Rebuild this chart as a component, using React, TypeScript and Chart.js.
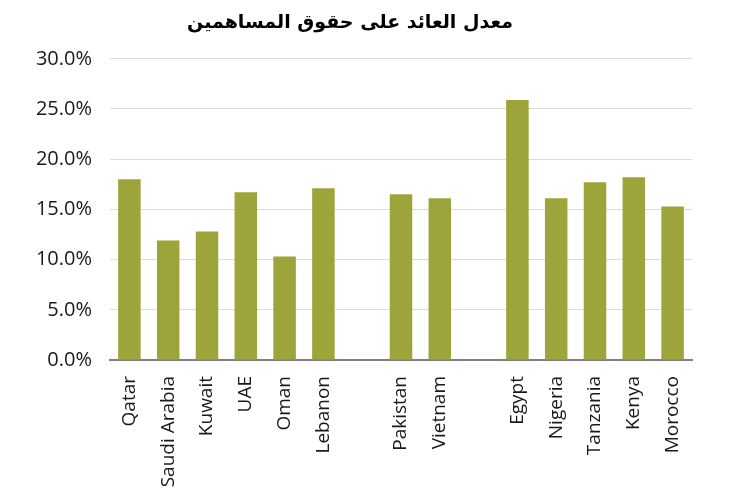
import React, { useEffect, useRef } from "react";
import { Chart, registerables } from "chart.js";

Chart.register(...registerables);

const titleText = "معدل العائد على حقوق المساهمين";
const categories = [
  "Qatar", "Saudi Arabia", "Kuwait", "UAE", "Oman", "Lebanon", "",
  "Pakistan", "Vietnam", "",
  "Egypt", "Nigeria", "Tanzania", "Kenya", "Morocco",
];
const roeValues: (number | null)[] = [
  18.0, 11.9, 12.8, 16.7, 10.3, 17.1, null,
  16.5, 16.1, null,
  25.9, 16.1, 17.7, 18.2, 15.3,
];
const yTicks = [0, 5, 10, 15, 20, 25, 30];

export default function App() {
  const ref = useRef<HTMLCanvasElement>(null);
  useEffect(() => {
    if (!ref.current) return;
    const chart = new Chart(ref.current, {
      type: "bar",
      data: {
        labels: categories,
        datasets: [
          {
            data: roeValues,
            backgroundColor: "#9da43a",
            borderWidth: 0,
            categoryPercentage: 1,
            barPercentage: 0.58,
          },
        ],
      },
      options: {
        responsive: false,
        animation: false,
        layout: { padding: { left: 0, right: 32, top: 0, bottom: 0 } },
        plugins: {
          legend: { display: false },
          tooltip: { enabled: false },
          title: {
            display: true,
            text: titleText,
            color: "#000",
            font: { family: "'DejaVu Sans'", size: 19, weight: "bold" },
            padding: { top: 4, bottom: 24 },
          },
        },
        scales: {
          x: {
            grid: { display: false },
            border: { display: true, color: "#808080", width: 2 },
            ticks: {
              color: "#1a1a1a",
              font: { family: "'Open Sans'", size: 19 },
              minRotation: 90,
              maxRotation: 90,
              autoSkip: false,
              padding: 8,
            },
            afterFit: (s: any) => {
              s.height = 132;
            },
          },
          y: {
            min: 0,
            max: 30,
            grid: { color: "#dcdcdc", lineWidth: 1, drawTicks: false },
            border: { display: false },
            afterBuildTicks: (s: any) => {
              s.ticks = yTicks.map((v) => ({ value: v }));
            },
            ticks: {
              color: "#1a1a1a",
              font: { family: "'Open Sans'", size: 20 },
              padding: 18,
              callback: (v: any) => Number(v).toFixed(1) + "%",
            },
            afterFit: (s: any) => {
              s.width = 102;
            },
          },
        },
      },
    });
    return () => chart.destroy();
  }, []);
  return <canvas ref={ref} width={716} height={484} style={{ display: "block" }} />;
}
